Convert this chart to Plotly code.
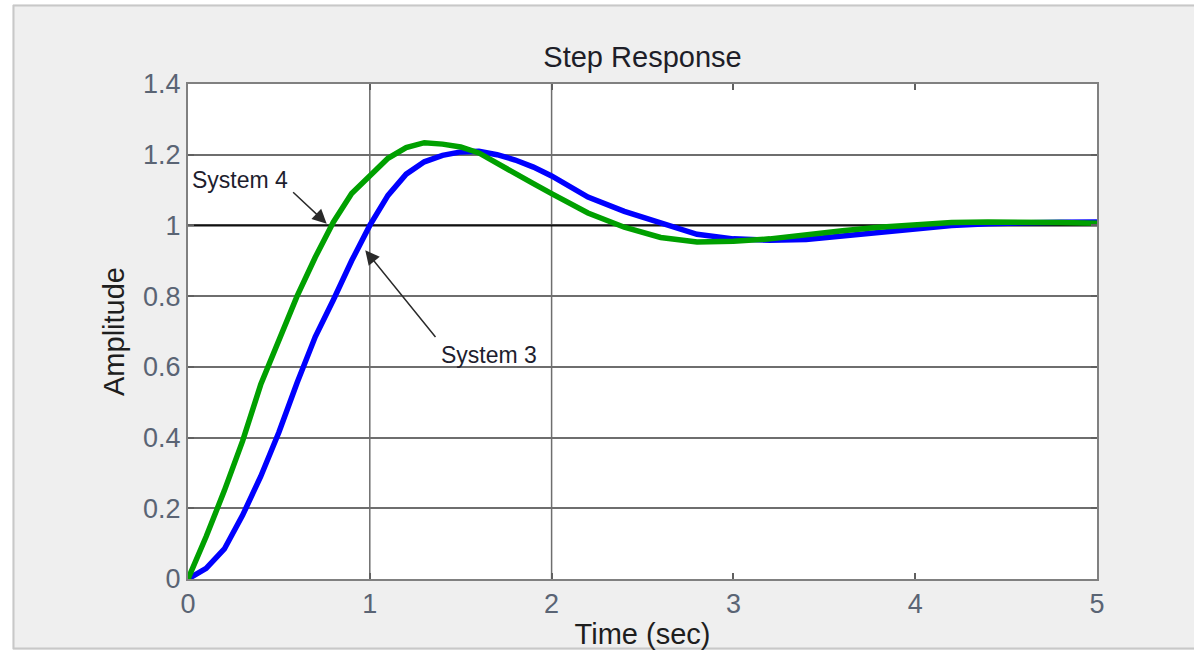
import plotly.graph_objects as go

# ---- data ----
t_sys3 = [0, 0.1, 0.2, 0.3, 0.4, 0.5, 0.6, 0.7, 0.8, 0.9, 1.0, 1.1, 1.2, 1.3, 1.4, 1.5,
          1.6, 1.7, 1.8, 1.9, 2.0, 2.2, 2.4, 2.6, 2.8, 3.0, 3.2, 3.4, 3.6, 3.8, 4.0,
          4.2, 4.4, 4.6, 4.8, 5.0]
y_sys3 = [0, 0.03, 0.085, 0.18, 0.29, 0.415, 0.555, 0.685, 0.79, 0.90, 1.0, 1.085, 1.145,
          1.18, 1.198, 1.208, 1.21, 1.20, 1.185, 1.165, 1.14, 1.08, 1.04, 1.006, 0.975,
          0.962, 0.958, 0.96, 0.97, 0.98, 0.99, 1.0, 1.005, 1.008, 1.009, 1.01]

t_sys4 = [0, 0.1, 0.2, 0.3, 0.4, 0.5, 0.6, 0.7, 0.8, 0.9, 1.0, 1.1, 1.2, 1.3, 1.4, 1.5,
          1.6, 1.7, 1.8, 1.9, 2.0, 2.2, 2.4, 2.6, 2.8, 3.0, 3.2, 3.4, 3.6, 3.8, 4.0,
          4.2, 4.4, 4.6, 4.8, 5.0]
y_sys4 = [0, 0.12, 0.25, 0.39, 0.55, 0.68, 0.80, 0.91, 1.01, 1.09, 1.14, 1.19, 1.22,
          1.234, 1.23, 1.222, 1.205, 1.175, 1.147, 1.118, 1.09, 1.035, 0.995, 0.966,
          0.953, 0.955, 0.962, 0.975, 0.985, 0.995, 1.003, 1.008, 1.01, 1.01, 1.008, 1.006]

x_range = [0, 5]
y_range = [0, 1.4]
x_ticks = [0, 1, 2, 3, 4, 5]
x_tick_labels = ["0", "1", "2", "3", "4", "5"]
y_ticks = [0, 0.2, 0.4, 0.6, 0.8, 1.0, 1.2, 1.4]
y_tick_labels = ["0", "0.2", "0.4", "0.6", "0.8", "1", "1.2", "1.4"]
x_grid = [1, 2]
ref_level = 1.0

title_text = "Step Response"
x_title = "Time (sec)"
y_title = "Amplitude"

labels = ["System 4", "System 3"]
label_pos = [(0.285, 1.128), (1.655, 0.633)]
arrow_tip = [(0.763, 1.005), (0.975, 0.93)]
arrow_tail = [(0.57, 1.098), (1.368, 0.68)]

# ---- figure ----
W, H = 1194, 650
L, R, T, B = 188, 97, 84, 71
pw, ph = W - L - R, H - T - B

def px(xp):
    return (xp - L) / pw

def py(yp):
    return (H - B - yp) / ph

fig = go.Figure()

# steady-state reference line (drawn beneath the curves, above the grid)
fig.add_trace(go.Scatter(x=x_range, y=[ref_level, ref_level], mode="lines",
                         line=dict(color="#111111", width=2), showlegend=False,
                         hoverinfo="skip"))
fig.add_trace(go.Scatter(x=t_sys3, y=y_sys3, mode="lines",
                         line=dict(color="#0000ff", width=5.5), showlegend=False,
                         name="System 3"))
fig.add_trace(go.Scatter(x=t_sys4, y=y_sys4, mode="lines",
                         line=dict(color="#00a000", width=5.5), showlegend=False,
                         name="System 4"))

shapes = []
for xv in x_grid:
    shapes.append(dict(type="line", xref="x", yref="paper", x0=xv, x1=xv, y0=0, y1=1,
                       line=dict(color="#6e6e6e", width=1.5), layer="below"))

# outer white strips and frame border (screenshot frame)
shapes.append(dict(type="rect", xref="paper", yref="paper", x0=px(0), x1=px(12.5),
                   y0=py(H), y1=py(0), fillcolor="white", line=dict(width=0)))
shapes.append(dict(type="rect", xref="paper", yref="paper", x0=px(0), x1=px(W),
                   y0=py(4.5), y1=py(0), fillcolor="white", line=dict(width=0)))
shapes.append(dict(type="line", xref="paper", yref="paper", x0=px(13.5), x1=px(13.5),
                   y0=py(649), y1=py(5), line=dict(color="#c8c8c8", width=2)))
shapes.append(dict(type="line", xref="paper", yref="paper", x0=px(13), x1=px(W),
                   y0=py(5.5), y1=py(5.5), line=dict(color="#c8c8c8", width=2)))
shapes.append(dict(type="line", xref="paper", yref="paper", x0=px(13), x1=px(W),
                   y0=py(648.5), y1=py(648.5), line=dict(color="#c8c8c8", width=2)))

annotations = []
for lab, (lx, ly), (hx, hy), (tx, ty) in zip(labels, label_pos, arrow_tip, arrow_tail):
    annotations.append(dict(x=lx, y=ly, xref="x", yref="y", text=lab, showarrow=False,
                            font=dict(family="Liberation Sans, Arial", size=23,
                                      color="#1e1e2e")))
    annotations.append(dict(x=hx, y=hy, xref="x", yref="y", ax=tx, ay=ty,
                            axref="x", ayref="y", text="", showarrow=True,
                            arrowhead=2, arrowsize=1.9, arrowwidth=1.5,
                            arrowcolor="#2a2a2a"))

fig.update_layout(
    width=W, height=H,
    autosize=False,
    margin=dict(l=L, r=R, t=T, b=B, pad=0, autoexpand=False),
    paper_bgcolor="#efefef",
    plot_bgcolor="white",
    title=dict(text=title_text, x=(L + pw / 2) / W, xanchor="center",
               y=1 - 57 / H, yanchor="middle", yref="container",
               font=dict(family="Liberation Sans, Arial", size=29, color="#1e1e28")),
    shapes=shapes,
    annotations=annotations,
    showlegend=False,
)

tick_font = dict(family="Liberation Sans, Arial", size=27, color="#5a6474")
axis_font = dict(family="Liberation Sans, Arial", size=29, color="#1e1e1e")

fig.update_xaxes(range=x_range, tickvals=x_ticks, ticktext=x_tick_labels,
                 automargin=False,
                 showgrid=False, zeroline=False, showline=True, mirror="allticks",
                 linecolor="#808080", linewidth=2, ticks="inside", ticklen=6,
                 tickcolor="#606060", tickwidth=1.5, tickfont=tick_font,
                 title=dict(text=x_title, font=axis_font, standoff=8))
fig.update_yaxes(range=y_range, tickvals=y_ticks, ticktext=y_tick_labels,
                 automargin=False,
                 showgrid=True, gridcolor="#6e6e6e", gridwidth=1.5,
                 zeroline=False, showline=True, mirror="allticks",
                 linecolor="#808080", linewidth=2, ticks="inside", ticklen=6,
                 tickcolor="#606060", tickwidth=1.5, tickfont=tick_font,
                 title=dict(text=y_title, font=axis_font, standoff=10))

fig.write_html("out.html",
               config={"displayModeBar": False},
               post_script="document.body.style.margin='0';"
                           "document.body.style.overflow='hidden';")
